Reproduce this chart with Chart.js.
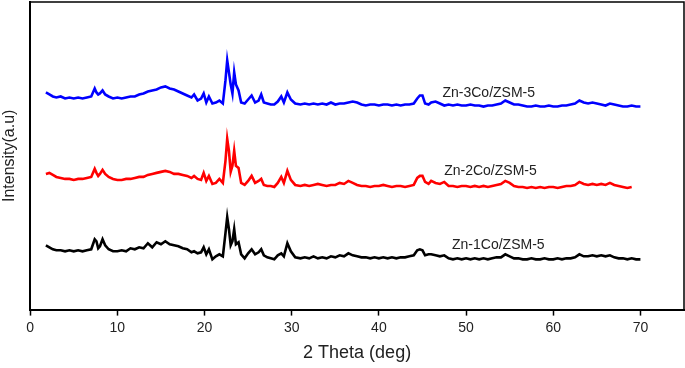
<!DOCTYPE html>
<html lang="en">
<head>
  <meta charset="UTF-8" />
  <title>XRD patterns - Zn-Co/ZSM-5</title>
  <style>
    body, html {
      margin: 0;
      background: #fff;
    }
    #wrap {
      width: 685px;
      height: 368px;
    }
  </style>
</head>
<body>

<div id="wrap"><canvas id="xrdChart"></canvas></div>

<script src="https://cdn.jsdelivr.net/npm/chart.js"></script>
<script>
  // 2 theta grid (deg) shared by the three patterns
  const twoTheta = [
    1.8, 2.2, 2.6, 3.0, 3.5, 4.0, 4.5, 5.0, 5.5, 6.0, 6.5, 7.0, 7.4, 7.6, 7.8, 8.0, 8.3, 8.6, 9.0, 9.5,
    10.0, 10.5, 11.0, 11.5, 12.0, 12.5, 13.0, 13.5, 14.0, 14.5, 15.0, 15.5, 16.0, 16.5, 17.0, 17.5, 18.0, 18.5, 18.8, 19.2,
    19.6, 19.9, 20.2, 20.5, 20.9, 21.3, 21.7, 22.1, 22.4, 22.6, 22.8, 23.0, 23.2, 23.4, 23.6, 23.9, 24.2, 24.6, 25.0, 25.4,
    25.8, 26.2, 26.5, 26.8, 27.2, 27.6, 28.0, 28.4, 28.8, 29.1, 29.5, 29.9, 30.4, 31.0, 31.5, 32.0, 32.5, 33.0, 33.5, 34.0,
    34.5, 35.0, 35.5, 36.0, 36.5, 37.0, 37.5, 38.0, 38.5, 39.0, 39.5, 40.0, 40.5, 41.0, 41.5, 42.0, 42.5, 43.0, 43.5, 44.0,
    44.4, 44.7, 45.0, 45.3, 45.7, 46.0, 46.5, 47.0, 47.5, 48.0, 48.5, 49.0, 49.5, 50.0, 50.5, 51.0, 51.5, 52.0, 52.5, 53.0,
    53.5, 54.0, 54.5, 55.0, 55.5, 56.0, 56.5, 57.0, 57.5, 58.0, 58.5, 59.0, 59.5, 60.0, 60.5, 61.0, 61.5, 62.0, 62.5, 63.0,
    63.5, 64.0, 64.5, 65.0, 65.5, 66.0, 66.5, 67.0, 67.5, 68.0, 68.5, 69.0, 69.5, 70.0
  ];

  // intensities (a.u., stacked offsets included)
  const zn3Co = [
    218, 216, 214, 213, 214, 212, 213, 212, 213, 212, 213, 214, 222, 218, 216, 217, 220, 216, 214, 212,
    213, 212, 213, 214, 214, 216, 217, 219, 220, 221, 223, 224, 222, 221, 219, 217, 215, 213, 216, 210,
    212, 217, 208, 214, 207, 208, 210, 207, 230, 250, 238, 226, 217, 238, 226, 220, 208, 207, 211, 215,
    208, 210, 216, 208, 207, 206, 206, 209, 214, 208, 218, 211, 207, 206, 207, 206, 207, 206, 207, 206,
    208, 206, 207, 207, 208, 209, 208, 206, 205, 206, 206, 205, 206, 206, 205, 206, 205, 206, 206, 207,
    212, 215, 215, 207, 206, 208, 209, 207, 205, 206, 205, 206, 205, 205, 206, 205, 205, 204, 205, 205,
    206, 207, 210, 208, 206, 206, 205, 204, 204, 205, 204, 204, 205, 204, 204, 205, 205, 206, 207, 210,
    208, 207, 208, 207, 206, 205, 207, 206, 205, 204, 204, 205, 204, 204
  ];
  const zn2Co = [
    137, 138, 136, 134, 133, 132, 132, 131, 132, 132, 133, 134, 142, 138, 135, 137, 141, 137, 134, 132,
    131, 131, 132, 132, 133, 134, 134, 136, 137, 138, 139, 140, 139, 137, 137, 136, 135, 133, 135, 132,
    131, 138, 130, 135, 127, 128, 132, 128, 150, 172, 160, 139, 145, 160, 145, 143, 128, 126, 130, 135,
    128, 130, 132, 126, 125, 125, 124, 128, 134, 128, 140, 131, 126, 125, 126, 125, 126, 127, 126, 125,
    126, 126, 128, 127, 130, 128, 126, 125, 125, 124, 125, 125, 126, 125, 124, 125, 125, 124, 125, 126,
    133, 135, 135, 129, 127, 130, 128, 127, 129, 125, 125, 124, 125, 125, 124, 125, 124, 125, 124, 125,
    126, 127, 130, 128, 125, 124, 124, 123, 124, 123, 124, 123, 124, 124, 123, 124, 125, 125, 126, 129,
    127, 126, 127, 126, 127, 126, 128, 126, 125, 124, 123, 124, null, null
  ];
  const zn1Co = [
    66, 64, 62, 61, 61, 60, 61, 60, 61, 60, 61, 62, 72, 70, 63, 65, 72, 66, 62, 60,
    60, 61, 60, 63, 62, 64, 63, 68, 64, 69, 67, 70, 67, 66, 65, 63, 62, 59, 60, 58,
    59, 64, 57, 62, 52, 55, 57, 55, 78, 94, 82, 66, 70, 82, 67, 69, 57, 53, 58, 62,
    57, 59, 62, 56, 54, 53, 52, 56, 58, 55, 68, 60, 54, 53, 54, 53, 55, 53, 54, 53,
    55, 54, 56, 55, 58, 56, 55, 54, 54, 53, 54, 53, 54, 53, 54, 53, 54, 54, 55, 56,
    61, 62, 61, 56, 57, 57, 56, 55, 56, 53, 52, 53, 52, 53, 52, 53, 52, 53, 52, 53,
    54, 54, 57, 55, 53, 53, 52, 52, 53, 52, 52, 53, 52, 52, 53, 52, 53, 53, 54, 57,
    55, 55, 56, 55, 56, 55, 56, 54, 53, 53, 52, 53, 52, 52
  ];

  const seriesNames = ['Zn-3Co/ZSM-5', 'Zn-2Co/ZSM-5', 'Zn-1Co/ZSM-5'];
  const seriesColors = ['#0000ff', '#ff0000', '#000000'];
  const seriesValues = [zn3Co, zn2Co, zn1Co];
  // where each name is written (2 theta, intensity)
  const labelX = [52.6, 52.8, 53.7];
  const labelY = [217, 140, 66];

  const xTicks = [0, 10, 20, 30, 40, 50, 60, 70];

  const toPoints = vals => twoTheta.map((t, i) => ({ x: t, y: vals[i] }));
  const fontFamily = '"Liberation Sans", Arial, sans-serif';

  const frameAndNames = {
    id: 'frameAndNames',
    afterDraw(chart) {
      const { ctx, chartArea: a, scales } = chart;
      ctx.save();
      ctx.strokeStyle = '#000';
      ctx.lineWidth = 1.5;
      ctx.beginPath();
      ctx.moveTo(a.left, a.top);
      ctx.lineTo(a.right, a.top);
      ctx.lineTo(a.right, a.bottom);
      ctx.stroke();

      ctx.fillStyle = '#222';
      ctx.font = '14px ' + fontFamily;
      ctx.textAlign = 'center';
      ctx.textBaseline = 'middle';
      seriesNames.forEach((name, i) => {
        ctx.fillText(name, scales.x.getPixelForValue(labelX[i]), scales.y.getPixelForValue(labelY[i]));
      });
      ctx.restore();
    }
  };

  new Chart(document.getElementById('xrdChart'), {
    type: 'line',
    data: {
      datasets: seriesNames.map((name, i) => ({
        label: name,
        data: toPoints(seriesValues[i]),
        borderColor: seriesColors[i],
        borderWidth: 2.6,
        pointRadius: 0,
        tension: 0,
        spanGaps: false
      }))
    },
    options: {
      responsive: true,
      maintainAspectRatio: false,
      animation: false,
      layout: { padding: { left: 0, top: 2, right: 1, bottom: 0 } },
      plugins: {
        legend: { display: false },
        tooltip: { enabled: false }
      },
      scales: {
        x: {
          type: 'linear',
          min: 0,
          max: 75,
          afterBuildTicks: s => { s.ticks = xTicks.map(v => ({ value: v })); },
          grid: {
            display: true,
            drawOnChartArea: false,
            drawTicks: true,
            tickLength: 6,
            tickWidth: 1.5,
            tickColor: '#000'
          },
          border: { display: true, color: '#000', width: 2 },
          ticks: {
            color: '#222',
            padding: 4,
            maxRotation: 0,
            font: { family: fontFamily, size: 14 }
          },
          title: {
            display: true,
            text: '2 Theta (deg)',
            color: '#222',
            padding: { top: 2, bottom: 4 },
            font: { family: fontFamily, size: 18 }
          }
        },
        y: {
          min: 2,
          max: 308,
          grid: { display: false, drawTicks: false },
          border: { display: true, color: '#000', width: 2 },
          ticks: { display: false },
          title: {
            display: true,
            text: 'Intensity(a.u)',
            color: '#222',
            padding: { top: 0, bottom: 11 },
            font: { family: fontFamily, size: 16 }
          }
        }
      }
    },
    plugins: [frameAndNames]
  });
</script>

</body>
</html>
